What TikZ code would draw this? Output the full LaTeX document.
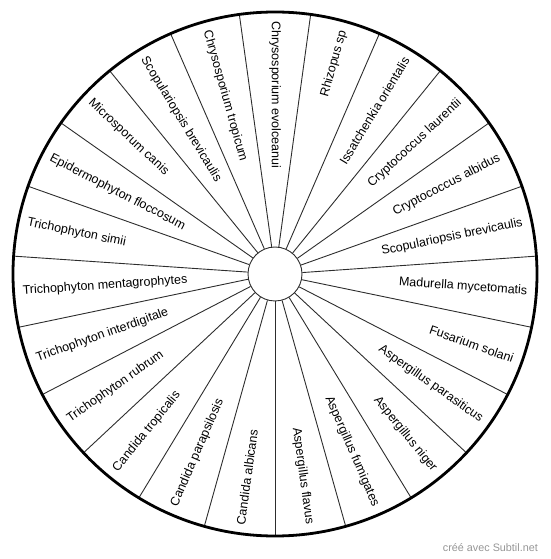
\documentclass[tikz,border=0pt]{standalone}
\usepackage{fontspec}
\setmainfont{Liberation Sans}
\usetikzlibrary{positioning}
\definecolor{spokeGray}{RGB}{45,45,45}
\definecolor{creditGray}{RGB}{150,150,150}

\begin{document}
\begin{tikzpicture}[
    x=1pt, y=1pt,
    spoke/.style={draw=spokeGray, line width=0.9pt},
    rim/.style={draw=black, line width=2.8pt},
    lbl/.style={inner sep=0pt, font=\fontsize{12.5}{14}\selectfont},
    hub/.style={circle, draw=spokeGray, line width=0.9pt, minimum size=54pt, inner sep=0pt}
]
\useasboundingbox (-275,-285) rectangle (275,274);

\node[hub] (hub) at (0,0) {};

% spokes and rim
\foreach \k in {0,...,22}
    \draw[spoke] (hub.{270+\k*360/23}) -- ({270+\k*360/23}:262);
\draw[rim] (0,0) circle (262);

% species, clockwise from the top
\foreach \name [count=\k from 0] in {Chrysosporium evolceanui, Rhizopus sp,
    Issatchenkia orientalis, Cryptococcus laurentii, Cryptococcus albidus,
    Scopulariopsis brevicaulis, Madurella mycetomatis, Fusarium solani,
    Aspergillus parasiticus, Aspergillus niger, Aspergillus fumigates,
    Aspergillus flavus, Candida albicans, Candida parapsilosis,
    Candida tropicalis, Trichophyton rubrum, Trichophyton interdigitale,
    Trichophyton mentagrophytes, Trichophyton simii, Epidermophyton floccosum,
    Microsporum canis, Scopulariopsis brevicaulis, Chrysosporium tropicum}{
    \pgfmathsetmacro{\a}{90-\k*360/23}
    \ifnum\k>0 \ifnum\k<12
        \node[lbl, rotate=\a, anchor=east] (sp\k) at (\a:253) {\name};
    \else
        \node[lbl, rotate=\a+180, anchor=west] (sp\k) at (\a:253) {\name};
    \fi \else
        \node[lbl, rotate=\a+180, anchor=west] (sp\k) at (\a:253) {\name};
    \fi
}

\node[anchor=east, inner sep=0pt, text=creditGray, font=\fontsize{10.8}{12}\selectfont] (credit) at (263,-274) {créé avec Subtil.net};
\end{tikzpicture}
\end{document}
